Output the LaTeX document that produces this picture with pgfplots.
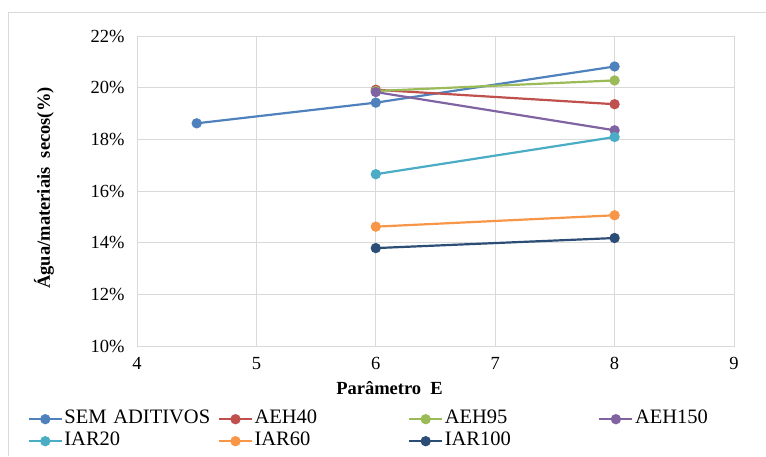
\documentclass[border=0pt]{standalone}
\usepackage{fontspec}
\setmainfont{Liberation Serif}
\usepackage{pgfplots}
\pgfplotsset{compat=1.18}
\definecolor{cSEM}{HTML}{4F81BD}
\definecolor{cA40}{HTML}{C0504D}
\definecolor{cA95}{HTML}{9BBB59}
\definecolor{cA150}{HTML}{8064A2}
\definecolor{cI20}{HTML}{4BACC6}
\definecolor{cI60}{HTML}{F79646}
\definecolor{cI100}{HTML}{2C4D75}
\definecolor{gridgray}{HTML}{D9D9D9}
\definecolor{framegray}{HTML}{D9D9D9}
\begin{document}
\begin{tikzpicture}
\useasboundingbox (-137pt,-110pt) rectangle (629pt,346pt);
\draw[framegray, line width=0.8pt] (-129pt,334pt) -- (629pt,334pt);
\draw[framegray, line width=0.8pt] (-129pt,334pt) -- (-129pt,-110pt);
\begin{axis}[
  at={(0pt,0pt)}, anchor=south west,
  scale only axis, width=597pt, height=310pt,
  xmin=4, xmax=9, ymin=10, ymax=22,
  xtick={4,5,6,7,8,9}, ytick={10,12,14,16,18,20,22},
  grid=major, major grid style={draw=gridgray, line width=0.8pt},
  axis line style={draw=gridgray, line width=0.8pt},
  tick style={draw=none},
  font=\fontsize{18.5}{22}\selectfont,
  /pgf/number format/assume math mode=true,
  yticklabel={\pgfmathprintnumber{\tick}\%},
  yticklabel style={xshift=-9pt},
  xticklabel style={yshift=-8pt},
  clip=false,
  xlabel={\bfseries Parâmetro\hspace{0.5em}E},
  xlabel style={at={(axis description cs:0.423,-0.135)}, anchor=center},
  ylabel={\bfseries Água/materiais\hspace{0.5em}secos(\%)},
  ylabel style={at={(axis description cs:-0.156,0.51)}, anchor=center, rotate=0},
  every axis plot/.append style={line width=2.2pt, mark=*, mark size=4pt},
  legend columns=4,
  legend image code/.code={\draw[mark repeat=2,mark phase=2] plot coordinates {(0pt,0pt) (16.5pt,0pt) (33pt,0pt)};},
  legend style={at={(axis description cs:-0.1834,-0.2)}, anchor=north west,
    draw=none, fill=none, inner sep=0pt,
    font=\fontsize{20.5}{22}\selectfont,
    nodes={text width=152pt, align=left, inner xsep=1.5pt, inner ysep=2.5pt, text height=13pt, text depth=4pt},
    /tikz/every even column/.append style={column sep=0pt},
    /tikz/every odd column/.append style={column sep=0pt},
    row sep=0pt},
  legend cell align=left,
]
\addplot[color=cSEM, mark options={fill=cSEM}] coordinates {(4.5,18.62) (6,19.42) (8,20.82)};
\addlegendentry{SEM ADITIVOS}
\addplot[color=cA40, mark options={fill=cA40}] coordinates {(6,19.92) (8,19.36)};
\addlegendentry{AEH40}
\addplot[color=cA95, mark options={fill=cA95}] coordinates {(6,19.87) (8,20.28)};
\addlegendentry{AEH95}
\addplot[color=cA150, mark options={fill=cA150}] coordinates {(6,19.83) (8,18.35)};
\addlegendentry{AEH150}
\addplot[color=cI20, mark options={fill=cI20}] coordinates {(6,16.65) (8,18.09)};
\addlegendentry{IAR20}
\addplot[color=cI60, mark options={fill=cI60}] coordinates {(6,14.62) (8,15.06)};
\addlegendentry{IAR60}
\addplot[color=cI100, mark options={fill=cI100}] coordinates {(6,13.79) (8,14.18)};
\addlegendentry{IAR100}
\end{axis}
\end{tikzpicture}
\end{document}
